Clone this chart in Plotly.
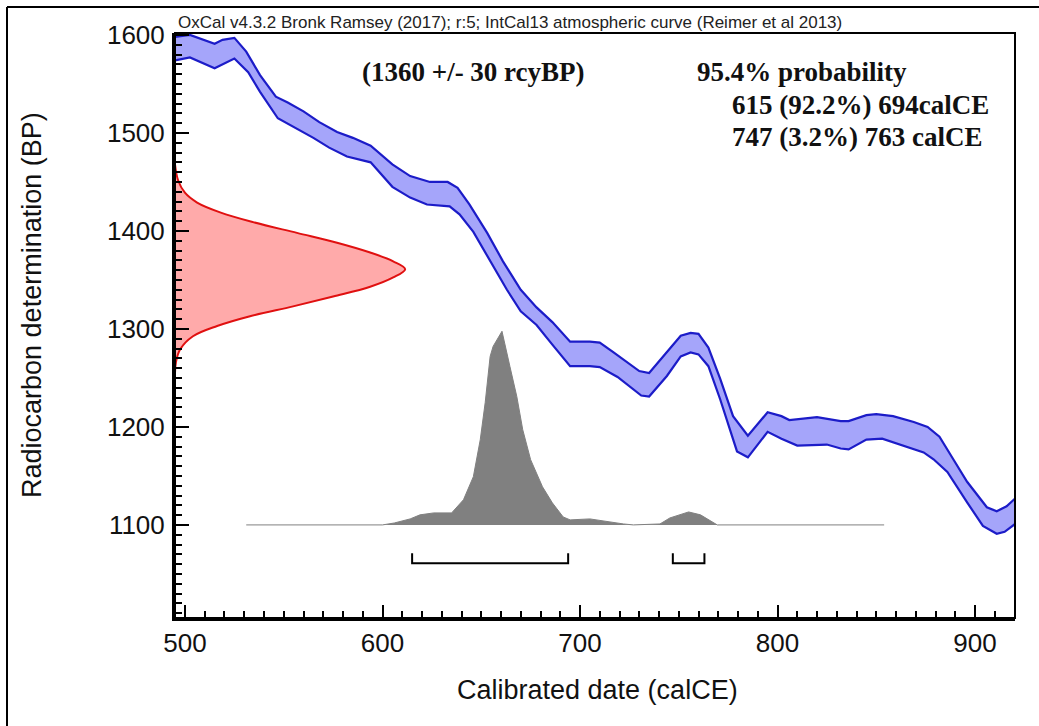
import plotly.graph_objects as go

# ---------------- data ----------------
# IntCal13 calibration band (upper / lower edges): calendar year CE vs radiocarbon BP
curve_upper_year = [495, 502.5, 515, 519, 525, 531, 538, 546, 552, 560, 568, 577, 585, 594, 605, 614,
                    624, 633, 638, 644, 653, 661, 670, 678, 686, 695, 705, 710, 717, 730, 735, 744,
                    751, 756, 760, 765, 771, 777.5, 785, 795, 802, 806, 820, 832, 836, 845, 850,
                    858.5, 869, 876, 882, 889, 896, 906, 911, 916, 920.3]
curve_upper_bp = [1598, 1600, 1591, 1595, 1597, 1583, 1559, 1537, 1531, 1522, 1511, 1501, 1495, 1487, 1468, 1456,
                  1450, 1450, 1444, 1427, 1398, 1369, 1340, 1322, 1307, 1287, 1287, 1286, 1276, 1257, 1255, 1276,
                  1293, 1296, 1295, 1281, 1249, 1211, 1191, 1215, 1211, 1207, 1210, 1206, 1206, 1212, 1213,
                  1211, 1205, 1200, 1190, 1167, 1144, 1118, 1114, 1119, 1127]
curve_lower_year = [495, 502.5, 515, 525, 532, 538, 547, 555, 565, 573, 582, 594, 605, 614, 622.5, 634,
                    639, 646, 654, 663, 670, 678, 686, 695, 705, 710, 719, 731, 735, 744, 751, 756,
                    760, 765, 771, 779.5, 785, 795, 802, 810, 825, 832, 836, 845, 853, 860.5, 874,
                    879, 886, 896, 904, 911, 915, 920.3]
curve_lower_bp = [1574, 1577, 1566, 1576, 1562, 1542, 1515, 1506, 1495, 1485, 1476, 1470, 1445, 1434, 1427, 1425,
                  1417, 1399, 1371, 1340, 1318, 1304, 1284, 1262, 1262, 1261, 1251, 1232, 1231, 1252, 1272, 1276,
                  1274, 1262, 1228, 1175, 1169, 1195, 1188, 1181, 1182, 1178, 1177, 1187, 1188, 1183, 1174,
                  1167, 1154, 1123, 1099, 1091, 1093, 1101]

# radiocarbon measurement likelihood (1360 +/- 30 BP), relative probability
meas_bp = [1468, 1452, 1439, 1429, 1419, 1409, 1398, 1388, 1378, 1369, 1361, 1352.5, 1343, 1333, 1323,
           1313, 1303, 1292.5, 1279, 1266, 1255]
meas_prob = [0, 0.013, 0.043, 0.096, 0.196, 0.339, 0.53, 0.704, 0.848, 0.948, 1.0, 0.948, 0.848, 0.687,
             0.513, 0.326, 0.183, 0.078, 0.022, 0.004, 0]

# calibrated date distribution, relative probability
post_year = [531, 600, 606, 614, 619, 626, 635, 641, 646, 649.5, 652, 654.5, 656, 660.5, 664.5, 668, 671,
             675, 681, 686, 691.5, 695, 705, 714, 722, 727, 740.5, 745.5, 755, 761, 769.5, 854]
post_prob = [0, 0, 0.01, 0.031, 0.052, 0.062, 0.062, 0.13, 0.249, 0.44, 0.632, 0.87, 0.922, 1.0, 0.819,
             0.663, 0.492, 0.337, 0.197, 0.114, 0.041, 0.026, 0.031, 0.016, 0.005, 0, 0.005, 0.036, 0.067,
             0.052, 0, 0]

# 95.4% ranges
range_start = [615, 747]
range_end = [694, 763]

x_range = [494.94, 920.25]
y_range = [1005, 1602]
tick_years = [500, 600, 700, 800, 900]
tick_bp = [1100, 1200, 1300, 1400, 1500, 1600]

# ---------------- styling ----------------
BAND_FILL = "rgba(165,165,250,1)"
BAND_LINE = "#1c1cc8"
RED_FILL = "#ffaaaa"
RED_LINE = "#e01010"
GREY = "#808080"
SANS = "Arial, Liberation Sans, sans-serif"
SERIF = "Times New Roman, Liberation Serif, serif"

post_base_bp = 1100      # where the posterior sits on the BP axis
post_peak_bp = 1297.6    # height of its peak on the BP axis
meas_peak_frac = 0.274   # fraction of plot width used by likelihood peak

fig = go.Figure()

# band fill
fig.add_trace(go.Scatter(
    x=curve_upper_year + curve_lower_year[::-1],
    y=curve_upper_bp + curve_lower_bp[::-1],
    fill="toself", fillcolor=BAND_FILL, mode="lines", line=dict(width=0),
    hoverinfo="skip", showlegend=False))
for xs, ys in [(curve_upper_year, curve_upper_bp), (curve_lower_year, curve_lower_bp)]:
    fig.add_trace(go.Scatter(x=xs, y=ys, mode="lines", line=dict(color=BAND_LINE, width=2.2),
                             showlegend=False))

# measurement likelihood on overlay x axis
fig.add_trace(go.Scatter(x=meas_prob, y=meas_bp, xaxis="x2", yaxis="y", mode="lines",
                         fill="tozerox", fillcolor=RED_FILL, line=dict(color=RED_LINE, width=2),
                         line_shape="spline", showlegend=False))

# calibrated distribution on overlay y axis
fig.add_trace(go.Scatter(x=post_year, y=post_prob, xaxis="x", yaxis="y2", mode="lines",
                         fill="tozeroy", fillcolor=GREY, line=dict(color=GREY, width=1),
                         showlegend=False))

# range brackets
for s, e in zip(range_start, range_end):
    fig.add_trace(go.Scatter(x=[s, s, e, e], y=[1071, 1061, 1061, 1071], mode="lines",
                             line=dict(color="black", width=2), showlegend=False))

span = y_range[1] - y_range[0]
base_frac = (post_base_bp - y_range[0]) / span
peak_frac = (post_peak_bp - y_range[0]) / span
S = 1.0 / (peak_frac - base_frac)
y2_range = [-base_frac * S, (1 - base_frac) * S]

axis_common = dict(
    showline=True, linecolor="black", linewidth=3, ticks="inside", tickcolor="black",
    tickwidth=2, showgrid=False, zeroline=False,
    tickfont=dict(family=SANS, size=26, color="#111"),
)
minor = dict(ticks="inside", dtick=10, tick0=0, ticklen=7, tickwidth=1.5,
             tickcolor="black", showgrid=False)

fig.update_layout(
    width=1039, height=726,
    margin=dict(l=175, r=24, t=33, b=108),
    paper_bgcolor="white", plot_bgcolor="white",
    xaxis=dict(range=x_range, tickvals=tick_years, ticklen=13, ticklabelstandoff=0,
               minor=minor, **axis_common),
    yaxis=dict(range=y_range, tickvals=tick_bp, ticklen=14, ticklabelstandoff=2,
               minor=minor, **axis_common),
    xaxis2=dict(overlaying="x", range=[0, 1 / meas_peak_frac], visible=False),
    yaxis2=dict(overlaying="y", range=y2_range, visible=False),
    showlegend=False,
)

# frame (top/right) and outer border
fig.add_shape(type="rect", xref="paper", yref="paper", x0=0, y0=0, x1=1, y1=1,
              line=dict(color="black", width=2))
fig.add_shape(type="line", xref="paper", yref="paper", x0=-0.2, x1=1.2, y0=1.0444, y1=1.0444,
              line=dict(color="black", width=2))
fig.add_shape(type="line", xref="paper", yref="paper", x0=-0.2, x1=-0.2, y0=-0.3, y1=1.0444,
              line=dict(color="black", width=2))

ann = []
ann.append(dict(text="OxCal v4.3.2 Bronk Ramsey (2017); r:5; IntCal13 atmospheric curve (Reimer et al 2013)",
                xref="paper", yref="paper", x=0, y=1, xanchor="left", yanchor="bottom",
                xshift=1, yshift=-1, showarrow=False, font=dict(family=SANS, size=17, color="#222")))
ann.append(dict(text="<b>(1360 +/- 30 rcyBP)</b>", xref="paper", yref="paper",
                x=(360 - 175) / 840, y=1 - (72 - 33) / 585, xanchor="left", yanchor="middle",
                showarrow=False, font=dict(family=SERIF, size=27, color="#111")))
ann.append(dict(text="<b>95.4% probability</b>", xref="paper", yref="paper",
                x=(695 - 175) / 840, y=1 - (72 - 33) / 585, xanchor="left", yanchor="middle",
                showarrow=False, font=dict(family=SERIF, size=27, color="#111")))
ann.append(dict(text="<b>615 (92.2%) 694calCE</b>", xref="paper", yref="paper",
                x=(730 - 175) / 840, y=1 - (105 - 33) / 585, xanchor="left", yanchor="middle",
                showarrow=False, font=dict(family=SERIF, size=27, color="#111")))
ann.append(dict(text="<b>747 (3.2%) 763 calCE</b>", xref="paper", yref="paper",
                x=(730 - 175) / 840, y=1 - (137 - 33) / 585, xanchor="left", yanchor="middle",
                showarrow=False, font=dict(family=SERIF, size=27, color="#111")))
ann.append(dict(text="Calibrated date (calCE)", xref="paper", yref="paper",
                x=(597 - 175) / 840, y=1 - (690 - 33) / 585, xanchor="center", yanchor="middle",
                showarrow=False, font=dict(family=SANS, size=27, color="#111")))
ann.append(dict(text="Radiocarbon determination (BP)", xref="paper", yref="paper",
                x=(32 - 175) / 840, y=1 - (305 - 33) / 585, xanchor="center", yanchor="middle",
                textangle=-90, showarrow=False, font=dict(family=SANS, size=27, color="#111")))
fig.update_layout(annotations=ann)

fig.write_html("out.html", config={"displayModeBar": False},
               post_script="document.body.style.margin='0px';")
